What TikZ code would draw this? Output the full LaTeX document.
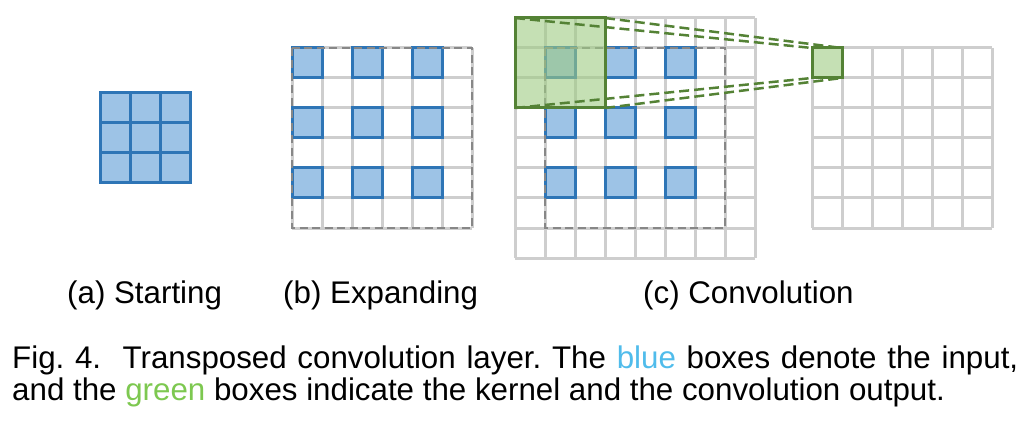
\documentclass[tikz,border=0pt]{standalone}
\usepackage{fontspec}
\setmainfont{Liberation Sans}
\usetikzlibrary{positioning}
\definecolor{cellblue}{RGB}{157,195,230}
\definecolor{edgeblue}{RGB}{46,117,182}
\definecolor{gridgray}{RGB}{206,206,206}
\definecolor{padgray}{RGB}{135,135,135}
\definecolor{kernfill}{RGB}{158,203,130}
\definecolor{kernedge}{RGB}{84,130,53}
\definecolor{capblue}{RGB}{80,188,235}
\definecolor{capgreen}{RGB}{125,200,80}
\tikzset{
	incell/.style={draw=edgeblue, fill=cellblue, line width=3pt},
	gridline/.style={draw=gridgray, line width=3pt},
	padline/.style={draw=padgray, line width=2.5pt, dash pattern=on 8pt off 4.5pt},
	kern/.style={draw=kernedge, fill=kernfill, fill opacity=0.6, draw opacity=1,
		line width=3pt, inner sep=0pt, outer sep=0pt, anchor=north west},
	proj/.style={draw=kernedge, line width=2.5pt, dash pattern=on 10pt off 5pt},
	sub/.style={font=\fontsize{31.3}{36}\selectfont, anchor=base west, inner sep=0pt},
}
\frenchspacing
\begin{document}
\begin{tikzpicture}[x=1pt, y=-1pt]
	\useasboundingbox (0,0) rectangle (1022,422);
	% (a) input
	\foreach \i in {0,1,2}
		\foreach \j in {0,1,2}
			\draw[incell] (100+30*\i,93+30*\j) rectangle +(30,30);
	% (b) expanded input
	\foreach \k in {0,...,6} {
		\draw[gridline] (292+30*\k,48) -- +(0,180);
		\draw[gridline] (292,48+30*\k) -- +(180,0);
	}
	\foreach \i in {0,2,4}
		\foreach \j in {0,2,4}
			\draw[incell] (292+30*\i,48+30*\j) rectangle +(30,30);
	\draw[padline] (292,48) rectangle (472,228);
	% (c) padded input and output
	\foreach \k in {0,...,8} {
		\draw[gridline] (515+30*\k,18) -- +(0,240);
		\draw[gridline] (515,18+30*\k) -- +(240,0);
	}
	\foreach \i in {1,3,5}
		\foreach \j in {1,3,5}
			\draw[incell] (515+30*\i,18+30*\j) rectangle +(30,30);
	\draw[padline] (545,48) rectangle (725,228);
	\foreach \k in {0,...,6} {
		\draw[gridline] (812+30*\k,48) -- +(0,180);
		\draw[gridline] (812,48+30*\k) -- +(180,0);
	}
	\node[kern, minimum size=90pt] (kernel) at (515,18) {};
	\node[kern, minimum size=30pt] (outcell) at (812,48) {};
	\draw[proj] (kernel.north west) -- (outcell.north west);
	\draw[proj] (kernel.north east) -- (outcell.north east);
	\draw[proj] (kernel.south west) -- (outcell.south west);
	\draw[proj] (kernel.south east) -- (outcell.south east);
	% captions
	\node[sub] (capa) at (67,303) {(a) Starting};
	\node[sub] (capb) at (283,303) {(b) Expanding};
	\node[sub] (capc) at (643,303) {(c) Convolution};
	\node[sub] (fig1) at (12,368) {\makebox[1006pt][s]{Fig. 4.\ \ Transposed convolution layer. The \textcolor{capblue}{blue} boxes denote the input,}};
	\node[sub] (fig2) at (12,400) {and the \textcolor{capgreen}{green} boxes indicate the kernel and the convolution output.};
\end{tikzpicture}
\end{document}
